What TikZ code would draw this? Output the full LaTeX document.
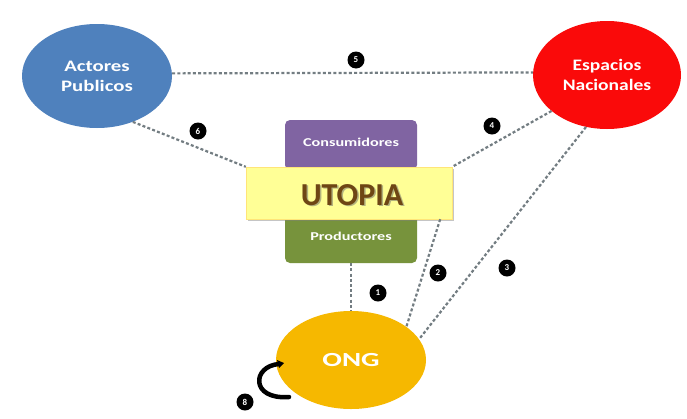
\documentclass[tikz,border=0pt]{standalone}
\usepackage{fontspec}
\usepackage{graphicx}
\setmainfont{Carlito}
\usetikzlibrary{shapes.geometric,shadows,arrows.meta}
\definecolor{apblue}{RGB}{79,129,189}
\definecolor{enred}{RGB}{250,10,10}
\definecolor{ongor}{RGB}{246,184,0}
\definecolor{purp}{RGB}{128,100,162}
\definecolor{grn}{RGB}{119,147,60}
\definecolor{utoy}{RGB}{255,255,150}
\definecolor{utotx}{RGB}{110,70,20}
\definecolor{dashc}{RGB}{115,125,130}
\newcommand\wideTxt[2]{\scalebox{#1}[1]{#2}}
\tikzset{
  actor/.style={ellipse, draw=none, inner sep=0pt, text=white, font=\bfseries\fontsize{16}{20}\selectfont, align=center},
  rbox/.style={rectangle, rounded corners=5pt, draw=none, text=white, font=\bfseries\fontsize{12}{14}\selectfont, minimum width=132pt, minimum height=50pt, inner sep=0pt},
  dline/.style={draw=dashc, line width=2.2pt, dash pattern=on 3pt off 2.2pt},
  badge/.style={circle, fill=black, text=white, font=\bfseries\fontsize{9}{10}\selectfont, minimum size=17pt, inner sep=0pt},
}
\begin{document}
\begin{tikzpicture}[x=1pt,y=-1pt]
\useasboundingbox (0,0) rectangle (687,418);
\fill[white] (0,0) rectangle (687,418);
% nodes
\node[actor, fill=apblue, minimum width=150pt, minimum height=104pt] (ap) at (97,76) {\wideTxt{1.3}{Actores}\\\wideTxt{1.3}{Publicos}};
\node[actor, fill=enred, minimum width=148pt, minimum height=108pt] (en) at (607,75) {\wideTxt{1.22}{Espacios}\\\wideTxt{1.22}{Nacionales}};
\node[actor, fill=ongor, minimum width=150pt, minimum height=98pt, font=\bfseries\fontsize{20}{24}\selectfont] (ong) at (351,360) {\wideTxt{1.45}{ONG}};
% boxes
\node[rbox, fill=purp] (cons) at (351,145) {};
\node[rbox, fill=grn] (prod) at (351,238) {};
\node[text=white, font=\bfseries\fontsize{12}{14}\selectfont] (constx) at (351,142) {\wideTxt{1.35}{Consumidores}};
\node[text=white, font=\bfseries\fontsize{12}{14}\selectfont] (prodtx) at (351,236) {\wideTxt{1.35}{Productores}};
\node[rectangle, fill=utoy, draw=utoy!80!orange, minimum width=206pt, minimum height=52pt, inner sep=0pt,
      drop shadow={shadow xshift=1.5pt, shadow yshift=-2pt, opacity=0.45}] (uto) at (349,193) {};
\node[text=black!60, opacity=0.5, font=\bfseries\fontsize{32}{36}\selectfont] (utosh) at (353.5,196.5) {UTOPIA};
\node[text=utotx, font=\bfseries\fontsize{32}{36}\selectfont] (utotx) at (352,195) {UTOPIA};
% connectors
\coordinate (u2) at ([xshift=-12pt]uto.south east);
\draw[dline] (ap.2) -- (en.178);
\draw[dline] (ap.-52) -- (uto.north west);
\draw[dline] (en.213) -- (uto.north east);
\draw[dline] (en.248) -- (ong.17);
\draw[dline] (u2) -- (ong.31);
\draw[dline] (prod.south) -- (ong.north);
% self loop
\coordinate (l8a) at (279,364);
\coordinate (l8b) at (289,397);
\draw[line width=4.5pt, line cap=round] (l8b) .. controls (250,400) and (252,366) .. (l8a);
\fill (l8a) ++(-2,-4) -- ++(7,3) -- ++(-5,5) -- cycle;
% badges
\node[badge] (b5) at (356,60) {5};
\node[badge] (b6) at (198,131) {6};
\node[badge] (b4) at (492,126) {4};
\node[badge] (b3) at (507,268) {3};
\node[badge] (b2) at (438,273) {2};
\node[badge] (b1) at (378,293) {1};
\node[badge] (b8) at (245,402) {8};
\end{tikzpicture}
\end{document}
